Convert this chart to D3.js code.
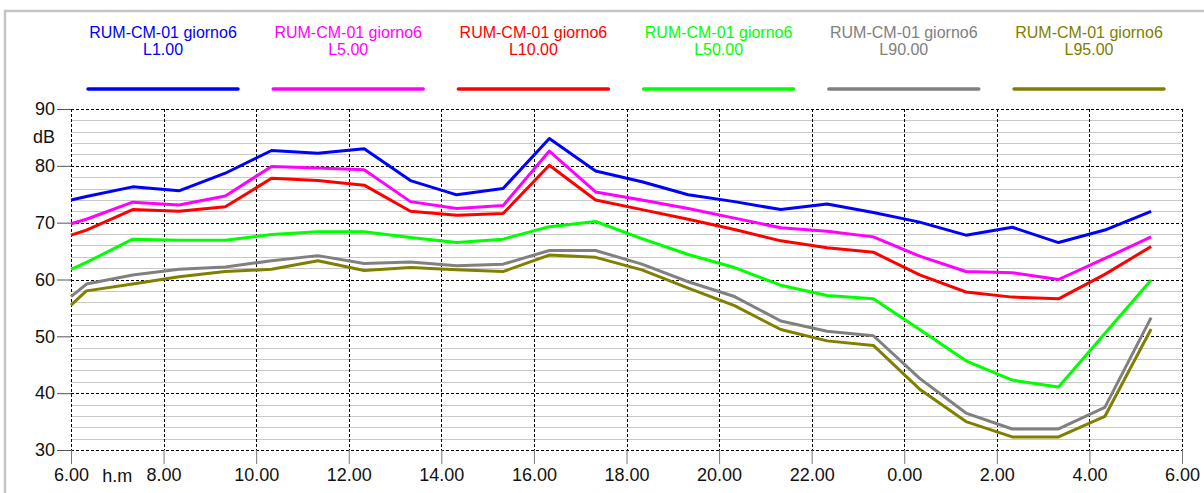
<!DOCTYPE html>
<html>
<head>
<meta charset="utf-8">
<script src="https://cdn.jsdelivr.net/npm/d3@7"></script>
<style>
  html, body { margin: 0; padding: 0; background: #fff; }
  svg { display: block; font-family: "Liberation Sans", Arial, sans-serif; }
</style>
</head>
<body>
<svg id="chart" width="1204" height="493"></svg>
<script>
// hours elapsed since 6.00 (measurements at :20 past each hour)
const hours = [0, 0.333, 1.333, 2.333, 3.333, 4.333, 5.333, 6.333, 7.333, 8.333,
  9.333, 10.333, 11.333, 12.333, 13.333, 14.333, 15.333, 16.333, 17.333, 18.333,
  19.333, 20.333, 21.333, 22.333, 23.333];

const l1 = [74.0, 74.6, 76.3, 75.6, 78.7, 82.7, 82.2, 83.0, 77.4, 74.9, 76.0, 84.8, 79.1,
  77.2, 74.9, 73.7, 72.3, 73.3, 71.8, 70.1, 67.8, 69.2, 66.5, 68.7, 72.0];
const l5 = [69.8, 70.6, 73.6, 73.1, 74.7, 79.9, 79.6, 79.3, 73.7, 72.5, 73.0, 82.6, 75.4,
  74.0, 72.5, 70.8, 69.1, 68.5, 67.5, 64.1, 61.4, 61.2, 60.0, 63.7, 67.5];
const l10 = [67.8, 68.7, 72.3, 72.0, 72.8, 77.8, 77.4, 76.6, 72.0, 71.3, 71.6, 80.1, 74.0,
  72.3, 70.6, 68.8, 66.8, 65.6, 64.8, 60.8, 57.8, 56.9, 56.6, 60.9, 65.8];
const l50 = [61.8, 63.0, 67.1, 66.9, 66.9, 67.9, 68.4, 68.4, 67.4, 66.5, 67.1, 69.3, 70.2,
  67.2, 64.4, 62.1, 59.0, 57.2, 56.6, 51.2, 45.7, 42.3, 41.1, 50.5, 59.9];
const l90 = [57.0, 59.2, 60.8, 61.8, 62.2, 63.3, 64.2, 62.8, 63.1, 62.4, 62.7, 65.1, 65.1,
  62.7, 59.6, 57.0, 52.7, 50.9, 50.1, 42.6, 36.5, 33.7, 33.7, 37.5, 53.3];
const l95 = [55.5, 58.0, 59.2, 60.5, 61.4, 61.8, 63.3, 61.6, 62.1, 61.7, 61.4, 64.3, 63.9,
  61.7, 58.5, 55.4, 51.2, 49.2, 48.4, 40.7, 35.0, 32.3, 32.3, 35.9, 51.3];

const seriesNames = ["L1.00", "L5.00", "L10.00", "L50.00", "L90.00", "L95.00"];
const seriesColors = ["#0000ff", "#ff00ff", "#ff0000", "#00ff00", "#808080", "#808000"];
const seriesValues = [l1, l5, l10, l50, l90, l95];
const station = "RUM-CM-01 giorno6";

const xTickLabels = ["6.00", "8.00", "10.00", "12.00", "14.00", "16.00", "18.00",
  "20.00", "22.00", "0.00", "2.00", "4.00", "6.00"];
const yTicks = [30, 40, 50, 60, 70, 80, 90];

const svg = d3.select("#chart");
const plot = { left: 71, right: 1182, top: 109, bottom: 450 };

const x = d3.scaleLinear().domain([0, 24]).range([plot.left, plot.right]);
const y = d3.scaleLinear().domain([30, 90]).range([plot.bottom, plot.top]);

// outer frame
svg.append("rect")
  .attr("x", 5).attr("y", 11)
  .attr("width", 1250).attr("height", 520)
  .attr("fill", "none")
  .attr("stroke", "#c4c4c4")
  .attr("stroke-width", 2.5);

// minor horizontal grid every 2 dB
const g = svg.append("g");
g.selectAll("line.minor")
  .data(d3.range(32, 90, 2).filter(v => v % 10 !== 0))
  .join("line")
  .attr("class", "minor")
  .attr("x1", plot.left).attr("x2", plot.right)
  .attr("y1", d => Math.round(y(d)) + 0.5).attr("y2", d => Math.round(y(d)) + 0.5)
  .attr("stroke", "#c8c8c8").attr("stroke-width", 1);

// major dashed grid
g.selectAll("line.hmajor")
  .data(yTicks)
  .join("line")
  .attr("class", "hmajor")
  .attr("x1", plot.left).attr("x2", plot.right)
  .attr("y1", d => Math.round(y(d)) + 0.5).attr("y2", d => Math.round(y(d)) + 0.5)
  .attr("stroke", "#000").attr("stroke-width", 1)
  .attr("stroke-dasharray", "3,2");

g.selectAll("line.vmajor")
  .data(d3.range(0, 25, 2))
  .join("line")
  .attr("class", "vmajor")
  .attr("x1", d => Math.round(x(d)) + 0.5).attr("x2", d => Math.round(x(d)) + 0.5)
  .attr("y1", plot.top).attr("y2", plot.bottom)
  .attr("stroke", "#000").attr("stroke-width", 1)
  .attr("stroke-dasharray", "3,2");

// y axis
const yAxis = d3.axisLeft(y).tickValues(yTicks).tickSize(14).tickPadding(2);
const ya = svg.append("g").attr("transform", `translate(${plot.left},0)`).call(yAxis);
ya.select(".domain").remove();
ya.selectAll(".tick line").attr("stroke", "#555");
ya.selectAll(".tick text").attr("font-size", 18).attr("fill", "#111")
  .attr("font-family", "Liberation Sans, Arial, sans-serif");

svg.append("text")
  .attr("x", 44).attr("y", 143)
  .attr("text-anchor", "middle")
  .attr("font-size", 18).attr("fill", "#111")
  .text("dB");

// x axis
const xAxis = d3.axisBottom(x).tickValues(d3.range(0, 25, 2))
  .tickFormat((d, i) => xTickLabels[i]).tickSize(14).tickPadding(4);
const xa = svg.append("g").attr("transform", `translate(0,${plot.bottom})`).call(xAxis);
xa.select(".domain").remove();
xa.selectAll(".tick line").attr("stroke", "#777");
xa.selectAll(".tick text").attr("font-size", 18).attr("fill", "#111")
  .attr("font-family", "Liberation Sans, Arial, sans-serif");

svg.append("text")
  .attr("x", x(1)).attr("y", 482)
  .attr("text-anchor", "middle")
  .attr("font-size", 18).attr("fill", "#111")
  .text("h.m");

// series lines
const line = d3.line()
  .x((d, i) => x(hours[i]))
  .y(d => y(d));

svg.append("g")
  .selectAll("path")
  .data(seriesValues)
  .join("path")
  .attr("d", line)
  .attr("fill", "none")
  .attr("stroke", (d, i) => seriesColors[i])
  .attr("stroke-width", 3)
  .attr("stroke-linejoin", "round");

// legend
const legendX = d3.scaleLinear().domain([0, 5]).range([163, 1089]);
const legend = svg.append("g")
  .selectAll("g")
  .data(seriesNames)
  .join("g")
  .attr("transform", (d, i) => `translate(${legendX(i)},0)`);

legend.append("text")
  .attr("y", 38)
  .attr("text-anchor", "middle")
  .attr("font-size", 16)
  .attr("fill", (d, i) => seriesColors[i])
  .text(station);

legend.append("text")
  .attr("y", 55)
  .attr("text-anchor", "middle")
  .attr("font-size", 16)
  .attr("fill", (d, i) => seriesColors[i])
  .text(d => d);

legend.append("line")
  .attr("x1", -75).attr("x2", 75)
  .attr("y1", 89).attr("y2", 89)
  .attr("stroke", (d, i) => seriesColors[i])
  .attr("stroke-width", 3.5)
  .attr("stroke-linecap", "round");
</script>
</body>
</html>
